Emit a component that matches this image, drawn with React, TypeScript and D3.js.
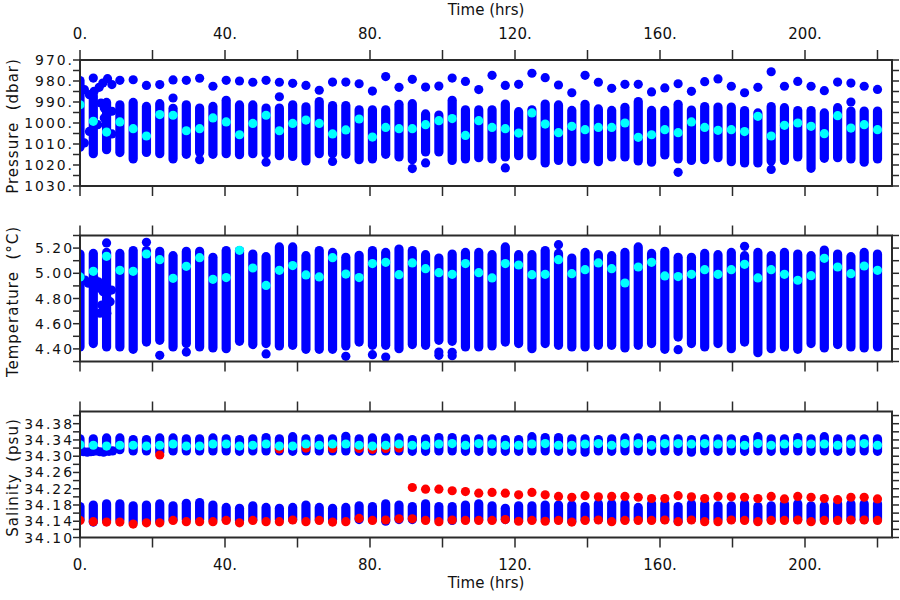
import React from 'react';
import * as d3 from 'd3';

// ---------- time of each profile (hrs) ----------
const times = [0, 3.67, 7.33, 11, 14.67, 18.33, 22, 25.67, 29.33, 33, 36.67, 40.33, 44, 47.67, 51.33, 55, 58.67, 62.33, 66, 69.67, 73.33, 77, 80.67, 84.33, 88, 91.67, 95.33, 99, 102.67, 106.33, 110, 113.67, 117.33, 121, 124.67, 128.33, 132, 135.67, 139.33, 143, 146.67, 150.33, 154, 157.67, 161.33, 165, 168.67, 172.33, 176, 179.67, 183.33, 187, 190.67, 194.33, 198, 201.67, 205.33, 209, 212.67, 216.33, 220];

const xTicks = [0, 20, 40, 60, 80, 100, 120, 140, 160, 180, 200, 220];
const xLabels = [0, 40, 80, 120, 160, 200];

// ---------- pressure (dbar) ----------
const pShallow = [null, 978.6, null, 979.7, 979.4, 982.1, 981.7, 979.5, 979.7, 978.7, 982.5, 979.7, 980.0, 980.6, 979.7, 980.6, 981.1, 982.1, 984.4, 980.5, 980.5, 981.3, 984.8, 977.9, 983.0, 979.2, 982.9, 982.4, 978.6, 980.2, 984.1, 977.3, 982.1, 981.6, 976.3, 978.4, 981.9, 985.6, 977.3, 980.6, 983.5, 981.6, 981.6, 985.2, 983.3, 981.3, 984.9, 980.3, 979.0, 982.5, 985.6, 983.0, 975.6, 982.5, 980.2, 982.5, 984.6, 980.5, 981.0, 982.5, 984.0];
const pColTop = [979.8, 987.0, 990.2, 991.3, 990.2, 992.1, 990.8, 993.0, 991.3, 992.9, 992.1, 989.2, 991.4, 991.4, 992.9, 992.9, 991.3, 992.3, 989.8, 991.7, 991.7, 993.7, 993.7, 993.7, 991.1, 990.8, 995.7, 996.2, 989.2, 993.7, 993.7, 993.7, 991.0, 994.6, 993.7, 991.0, 991.4, 994.0, 991.1, 993.3, 994.0, 992.5, 989.8, 994.0, 994.0, 991.1, 993.8, 992.2, 992.4, 992.4, 994.1, 995.2, 992.2, 992.7, 994.1, 994.1, 995.2, 992.7, 994.3, 994.3, 994.3];
const pColBottom = [1011.5, 1014.6, 1012.7, 1014.1, 1017.1, 1014.0, 1014.6, 1017.1, 1014.9, 1014.0, 1014.9, 1014.6, 1015.1, 1014.6, 1014.6, 1015.6, 1015.9, 1018.1, 1014.6, 1014.6, 1014.9, 1017.5, 1017.1, 1014.9, 1016.2, 1017.5, 1013.8, 1013.8, 1017.8, 1017.1, 1016.5, 1017.1, 1016.2, 1015.6, 1015.6, 1019.0, 1017.8, 1018.4, 1017.1, 1018.4, 1016.2, 1016.2, 1018.1, 1018.7, 1015.2, 1017.1, 1017.8, 1017.5, 1016.5, 1018.4, 1019.0, 1019.0, 1018.1, 1017.8, 1016.2, 1021.6, 1016.8, 1016.5, 1017.1, 1018.7, 1017.1];
const pMarked = [991.3, 999.2, 1004.3, 999.5, 1002.7, 1006.2, 996.0, 996.3, 1003.7, 1002.7, 997.6, 999.5, 1005.6, 1000.2, 996.3, 1003.7, 1000.2, 998.6, 1000.2, 1005.2, 1003.3, 998.1, 1006.7, 1002.1, 1002.7, 1002.7, 1000.8, 998.9, 997.9, 1005.9, 998.9, 1002.1, 1002.7, 1004.8, 995.2, 1000.5, 1004.6, 1001.6, 1003.2, 1002.1, 1002.1, 1000.0, 1006.8, 1005.6, 1003.2, 1004.6, 999.5, 1002.1, 1003.5, 1003.2, 1004.1, 996.8, 1006.2, 1001.1, 1000.0, 1001.6, 1005.1, 996.5, 1002.4, 1000.8, 1003.2];
const pExtraTime = [25.67, 33, 51.33, 55, 69.67, 91.67, 95.33, 117.33, 165, 190.67, 212.67];
const pExtraValue = [988.1, 1017.5, 1018.7, 987.5, 1018.3, 1021.7, 1019.0, 1021.4, 1023.5, 1022.1, 990.0];
const pEarlyTime = [1.2, 2.6, 3.9, 5.3, 6.3, 7.6, 8.8, 5.8, 6.7, 8.1, 8.8, 2.6, 4.9, 6.7, 8.8, 1.2];
const pEarlyValue = [984.1, 986.5, 984.9, 983.0, 981.0, 978.9, 981.7, 990.5, 992.9, 994.4, 994.4, 1004.0, 1000.8, 997.6, 1005.2, 1009.5];

// ---------- temperature (°C) ----------
const tColTop = [5.153, 5.158, 5.166, 5.158, 5.180, 5.180, 5.174, 5.140, 5.174, 5.174, 5.127, 5.180, 5.180, 5.153, 5.132, 5.209, 5.209, 5.140, 5.180, 5.166, 5.127, 5.143, 5.180, 5.166, 5.193, 5.180, 5.148, 5.121, 5.153, 5.166, 5.166, 5.148, 5.209, 5.148, 5.148, 5.180, 5.158, 5.121, 5.166, 5.148, 5.140, 5.166, 5.209, 5.158, 5.174, 5.127, 5.127, 5.158, 5.148, 5.166, 5.140, 5.166, 5.140, 5.166, 5.153, 5.140, 5.185, 5.153, 5.132, 5.166, 5.153];
const tColBottom = [4.415, 4.442, 4.415, 4.415, 4.397, 4.454, 4.468, 4.415, 4.442, 4.415, 4.407, 4.402, 4.460, 4.434, 4.442, 4.423, 4.428, 4.397, 4.397, 4.397, 4.423, 4.454, 4.428, 4.428, 4.402, 4.434, 4.428, 4.468, 4.460, 4.415, 4.415, 4.423, 4.454, 4.442, 4.402, 4.442, 4.428, 4.415, 4.415, 4.428, 4.428, 4.407, 4.428, 4.442, 4.397, 4.494, 4.442, 4.415, 4.442, 4.402, 4.454, 4.370, 4.402, 4.415, 4.397, 4.442, 4.407, 4.434, 4.415, 4.407, 4.415];
const tMarked = [4.971, 5.016, 5.135, 5.024, 5.016, 5.153, 5.108, 4.960, 5.055, 5.124, 4.952, 4.966, 5.182, 5.042, 4.904, 5.024, 5.061, 4.987, 4.971, 5.124, 4.994, 4.966, 5.077, 5.087, 4.989, 5.082, 5.037, 5.005, 4.992, 5.077, 5.005, 4.963, 5.077, 5.066, 4.989, 4.992, 5.108, 4.997, 5.029, 5.082, 5.037, 4.923, 5.050, 5.087, 4.979, 4.974, 4.992, 5.029, 4.992, 5.029, 5.071, 4.963, 5.029, 4.992, 4.945, 4.981, 5.119, 5.050, 4.997, 5.058, 5.024];
const tExtraTime = [7.33, 18.33, 22, 29.33, 51.33, 73.33, 80.67, 84.33, 99, 99, 102.67, 102.67, 132, 165, 183.33];
const tExtraValue = [5.241, 5.246, 4.349, 4.375, 4.360, 4.341, 4.354, 4.335, 4.375, 4.349, 4.373, 4.346, 5.227, 4.394, 5.214];
const tEarlyTime = [1.38, 2.3, 4.0, 5.06, 5.5, 6.4, 8.7, 8.3, 6.4, 5.5, 7.4, 6.0];
const tEarlyValue = [4.947, 4.921, 4.950, 4.933, 4.881, 4.854, 4.867, 4.775, 4.709, 4.683, 4.683, 4.748];

// ---------- salinity (psu) ----------
const sUpperTop = [34.343, 34.343, 34.345, 34.345, 34.341, 34.341, 34.345, 34.345, 34.343, 34.343, 34.345, 34.343, 34.341, 34.343, 34.346, 34.343, 34.348, 34.343, 34.343, 34.343, 34.349, 34.343, 34.345, 34.345, 34.345, 34.341, 34.343, 34.346, 34.346, 34.343, 34.343, 34.343, 34.341, 34.341, 34.348, 34.346, 34.346, 34.343, 34.343, 34.341, 34.343, 34.345, 34.345, 34.341, 34.343, 34.343, 34.341, 34.343, 34.343, 34.343, 34.341, 34.348, 34.343, 34.343, 34.346, 34.343, 34.348, 34.343, 34.343, 34.343, 34.343];
const sUpperBottom = [34.312, 34.312, 34.313, 34.316, 34.313, 34.313, 34.310, 34.313, 34.313, 34.313, 34.313, 34.313, 34.312, 34.313, 34.313, 34.313, 34.312, 34.313, 34.313, 34.313, 34.313, 34.312, 34.313, 34.313, 34.313, 34.312, 34.312, 34.313, 34.313, 34.312, 34.312, 34.312, 34.312, 34.312, 34.313, 34.313, 34.312, 34.312, 34.310, 34.313, 34.312, 34.313, 34.313, 34.312, 34.313, 34.312, 34.310, 34.313, 34.312, 34.313, 34.312, 34.313, 34.312, 34.313, 34.313, 34.312, 34.313, 34.312, 34.312, 34.313, 34.312];
const sMarked = [34.328, 34.327, 34.325, 34.327, 34.327, 34.325, 34.327, 34.330, 34.325, 34.325, 34.330, 34.330, 34.325, 34.327, 34.330, 34.325, 34.325, 34.330, 34.327, 34.330, 34.330, 34.327, 34.325, 34.327, 34.330, 34.327, 34.327, 34.330, 34.331, 34.327, 34.331, 34.330, 34.327, 34.327, 34.330, 34.331, 34.327, 34.327, 34.330, 34.331, 34.327, 34.331, 34.331, 34.327, 34.331, 34.331, 34.330, 34.331, 34.330, 34.330, 34.327, 34.331, 34.327, 34.330, 34.331, 34.330, 34.330, 34.327, 34.330, 34.331, 34.327];
const sLowerTop = [34.176, 34.180, 34.183, 34.183, 34.178, 34.180, 34.183, 34.178, 34.184, 34.186, 34.180, 34.174, 34.172, 34.178, 34.174, 34.172, 34.174, 34.180, 34.174, 34.172, 34.174, 34.178, 34.176, 34.183, 34.180, 34.176, 34.183, 34.176, 34.176, 34.180, 34.183, 34.178, 34.172, 34.178, 34.178, 34.180, 34.180, 34.180, 34.176, 34.183, 34.183, 34.183, 34.174, 34.183, 34.183, 34.176, 34.183, 34.183, 34.178, 34.178, 34.183, 34.176, 34.178, 34.183, 34.183, 34.178, 34.178, 34.183, 34.183, 34.183, 34.183];
const sLowerBottom = [34.144, 34.138, 34.142, 34.144, 34.138, 34.140, 34.140, 34.144, 34.144, 34.144, 34.144, 34.144, 34.142, 34.144, 34.144, 34.144, 34.144, 34.144, 34.144, 34.144, 34.144, 34.144, 34.144, 34.140, 34.144, 34.144, 34.144, 34.144, 34.142, 34.144, 34.144, 34.144, 34.144, 34.142, 34.144, 34.144, 34.144, 34.140, 34.144, 34.144, 34.142, 34.144, 34.144, 34.144, 34.144, 34.140, 34.144, 34.144, 34.144, 34.144, 34.144, 34.142, 34.144, 34.144, 34.144, 34.142, 34.144, 34.144, 34.144, 34.144, 34.144];
const sRedLow = [34.142, 34.139, 34.138, 34.138, 34.133, 34.136, 34.136, 34.142, 34.139, 34.139, 34.139, 34.142, 34.136, 34.142, 34.139, 34.139, 34.143, 34.139, 34.142, 34.138, 34.139, 34.147, 34.142, 34.143, 34.146, 34.146, 34.142, 34.139, 34.143, 34.142, 34.142, 34.142, 34.144, 34.140, 34.142, 34.140, 34.142, 34.138, 34.142, 34.143, 34.139, 34.142, 34.142, 34.142, 34.143, 34.139, 34.143, 34.139, 34.139, 34.143, 34.142, 34.139, 34.142, 34.142, 34.143, 34.139, 34.142, 34.142, 34.143, 34.143, 34.142];
const sRedHigh = [null, null, null, null, null, null, null, null, null, null, null, null, null, null, null, null, null, null, null, null, null, null, null, null, null, 34.223, 34.219, 34.219, 34.215, 34.213, 34.209, 34.211, 34.209, 34.205, 34.211, 34.205, 34.201, 34.199, 34.203, 34.200, 34.201, 34.201, 34.199, 34.196, 34.196, 34.203, 34.200, 34.196, 34.201, 34.200, 34.199, 34.196, 34.201, 34.195, 34.201, 34.199, 34.196, 34.193, 34.199, 34.199, 34.195];
const sRedUpperTime = [22, 55, 62.33, 69.67, 77, 80.67, 84.33, 88];
const sRedUpperValue = [34.303, 34.318, 34.320, 34.319, 34.319, 34.317, 34.319, 34.320];
const sEarlyTime = [1.0, 2.0, 3.0, 4.5, 5.5, 6.5, 8.0, 9.0];
const sEarlyValue = [34.311, 34.310, 34.311, 34.313, 34.311, 34.310, 34.312, 34.313];

const BLUE = '#0000ff';
const CYAN = '#00ffff';
const RED = '#ff0000';
const AX = '#2a2a2a';
const FONT = 'DejaVu Sans, Verdana, sans-serif';
const R = 4.6;

const X0 = 80, X1 = 892, PH = 126;

export default function App() {
  const x = d3.scaleLinear().domain([0, 224]).range([X0, X1]);

  const panels = [
    {
      id: 'p', top: 60, title: 'Pressure  (dbar)',
      y: d3.scaleLinear().domain([970, 1030]).range([60, 60 + PH]),
      ticks: d3.range(0, 13).map(i => 970 + i * 5),
      labels: d3.range(0, 7).map(i => 970 + i * 10),
      fmt: (v: number) => v.toFixed(0) + '.',
      cols: times.map((t, i) => ({ t, a: pColTop[i], b: pColBottom[i] })),
      blueDots: [
        ...times.map((t, i) => ({ t, v: pShallow[i] })).filter(d => d.v != null),
        ...pExtraTime.map((t, i) => ({ t, v: pExtraValue[i] })),
        ...pEarlyTime.map((t, i) => ({ t, v: pEarlyValue[i] })),
      ],
      redDots: [] as { t: number; v: number }[],
      cyanDots: times.map((t, i) => ({ t, v: pMarked[i] })),
    },
    {
      id: 't', top: 235.5, title: 'Temperature  (°C)',
      y: d3.scaleLinear().domain([4.3, 5.3]).range([235.5 + PH, 235.5]),
      ticks: d3.range(43, 54).map(v => v / 10),
      labels: [4.4, 4.6, 4.8, 5.0, 5.2],
      fmt: (v: number) => v.toFixed(2),
      cols: times.map((t, i) => ({ t, a: tColTop[i], b: tColBottom[i] })),
      blueDots: [
        ...tExtraTime.map((t, i) => ({ t, v: tExtraValue[i] })),
        ...tEarlyTime.map((t, i) => ({ t, v: tEarlyValue[i] })),
      ],
      redDots: [] as { t: number; v: number }[],
      cyanDots: times.map((t, i) => ({ t, v: tMarked[i] })),
    },
    {
      id: 's', top: 411.5, title: 'Salinity  (psu)',
      y: d3.scaleLinear().domain([34.10, 34.41]).range([411.5 + PH, 411.5]),
      ticks: d3.range(0, 16).map(i => 34.10 + i * 0.02),
      labels: d3.range(0, 8).map(i => 34.10 + i * 0.04),
      fmt: (v: number) => v.toFixed(2),
      cols: [
        ...times.map((t, i) => ({ t, a: sUpperTop[i], b: sUpperBottom[i] })),
        ...times.map((t, i) => ({ t, a: sLowerTop[i], b: sLowerBottom[i] })),
      ],
      blueDots: sEarlyTime.map((t, i) => ({ t, v: sEarlyValue[i] })),
      redDots: [
        ...times.map((t, i) => ({ t, v: sRedLow[i] })),
        ...times.map((t, i) => ({ t, v: sRedHigh[i] })).filter(d => d.v != null),
        ...sRedUpperTime.map((t, i) => ({ t, v: sRedUpperValue[i] })),
      ],
      cyanDots: times.map((t, i) => ({ t, v: sMarked[i] })),
    },
  ];

  return (
    <svg width={900} height={600} viewBox="0 0 900 600"
      style={{ position: 'absolute', left: 0, top: 0, background: '#fff', fontFamily: FONT }}>
      <rect x={0} y={0} width={900} height={600} fill="#fff" />
      <defs>
        {panels.map(p => (
          <clipPath id={'clip-' + p.id} key={p.id}>
            <rect x={X0} y={p.top} width={X1 - X0} height={PH} />
          </clipPath>
        ))}
      </defs>
      <text x={(X0 + X1) / 2} y={10} textAnchor="middle" dominantBaseline="central" fontSize={15} fill="#111">Time (hrs)</text>
      <text x={(X0 + X1) / 2} y={583} textAnchor="middle" dominantBaseline="central" fontSize={15} fill="#111">Time (hrs)</text>
      {xLabels.map(v => (
        <text key={'xt' + v} x={x(v)} y={34} textAnchor="middle" dominantBaseline="central" fontSize={15} fill="#111">{v + '.'}</text>
      ))}
      {xLabels.map(v => (
        <text key={'xb' + v} x={x(v)} y={565} textAnchor="middle" dominantBaseline="central" fontSize={15} fill="#111">{v + '.'}</text>
      ))}
      {panels.map(p => {
        const y = p.y;
        const bottom = p.top + PH;
        const cx = (p.top + bottom) / 2 + 3;
        return (
          <g key={p.id}>
            <g clipPath={`url(#clip-${p.id})`}>
              {p.cols.map((c, i) => (
                <line key={'c' + i} x1={x(c.t)} x2={x(c.t)} y1={y(c.a)} y2={y(c.b)}
                  stroke={BLUE} strokeWidth={2 * R} strokeLinecap="round" />
              ))}
              {p.blueDots.map((d, i) => (
                <circle key={'b' + i} cx={x(d.t)} cy={y(d.v as number)} r={R} fill={BLUE} />
              ))}
              {p.redDots.map((d, i) => (
                <circle key={'r' + i} cx={x(d.t)} cy={y(d.v as number)} r={R} fill={RED} />
              ))}
              {p.cyanDots.map((d, i) => (
                <circle key={'y' + i} cx={x(d.t)} cy={y(d.v)} r={R} fill={CYAN} />
              ))}
            </g>
            <rect x={X0} y={p.top} width={X1 - X0} height={PH} fill="none" stroke={AX} strokeWidth={2} />
            {xTicks.map(v => (
              <g key={'xtk' + v}>
                <line x1={x(v)} x2={x(v)} y1={p.top} y2={p.top - 10} stroke={AX} strokeWidth={1.5} />
                <line x1={x(v)} x2={x(v)} y1={bottom} y2={bottom + 10} stroke={AX} strokeWidth={1.5} />
              </g>
            ))}
            {p.ticks.map(v => (
              <g key={'ytk' + v}>
                <line x1={X0} x2={X0 - 7} y1={y(v)} y2={y(v)} stroke={AX} strokeWidth={1.5} />
                <line x1={X1} x2={X1 + 7} y1={y(v)} y2={y(v)} stroke={AX} strokeWidth={1.5} />
              </g>
            ))}
            {p.labels.map(v => (
              <text key={'yl' + v} x={74} y={y(v)} textAnchor="end" dominantBaseline="central" fontSize={13.9}
                letterSpacing={2} fill="#111">{p.fmt(v)}</text>
            ))}
            <text x={13} y={cx} transform={`rotate(-90 13 ${cx})`} textAnchor="middle" dominantBaseline="central"
              fontSize={15} letterSpacing={1} fill="#111" style={{ whiteSpace: 'pre' }}>{p.title}</text>
          </g>
        );
      })}
    </svg>
  );
}
